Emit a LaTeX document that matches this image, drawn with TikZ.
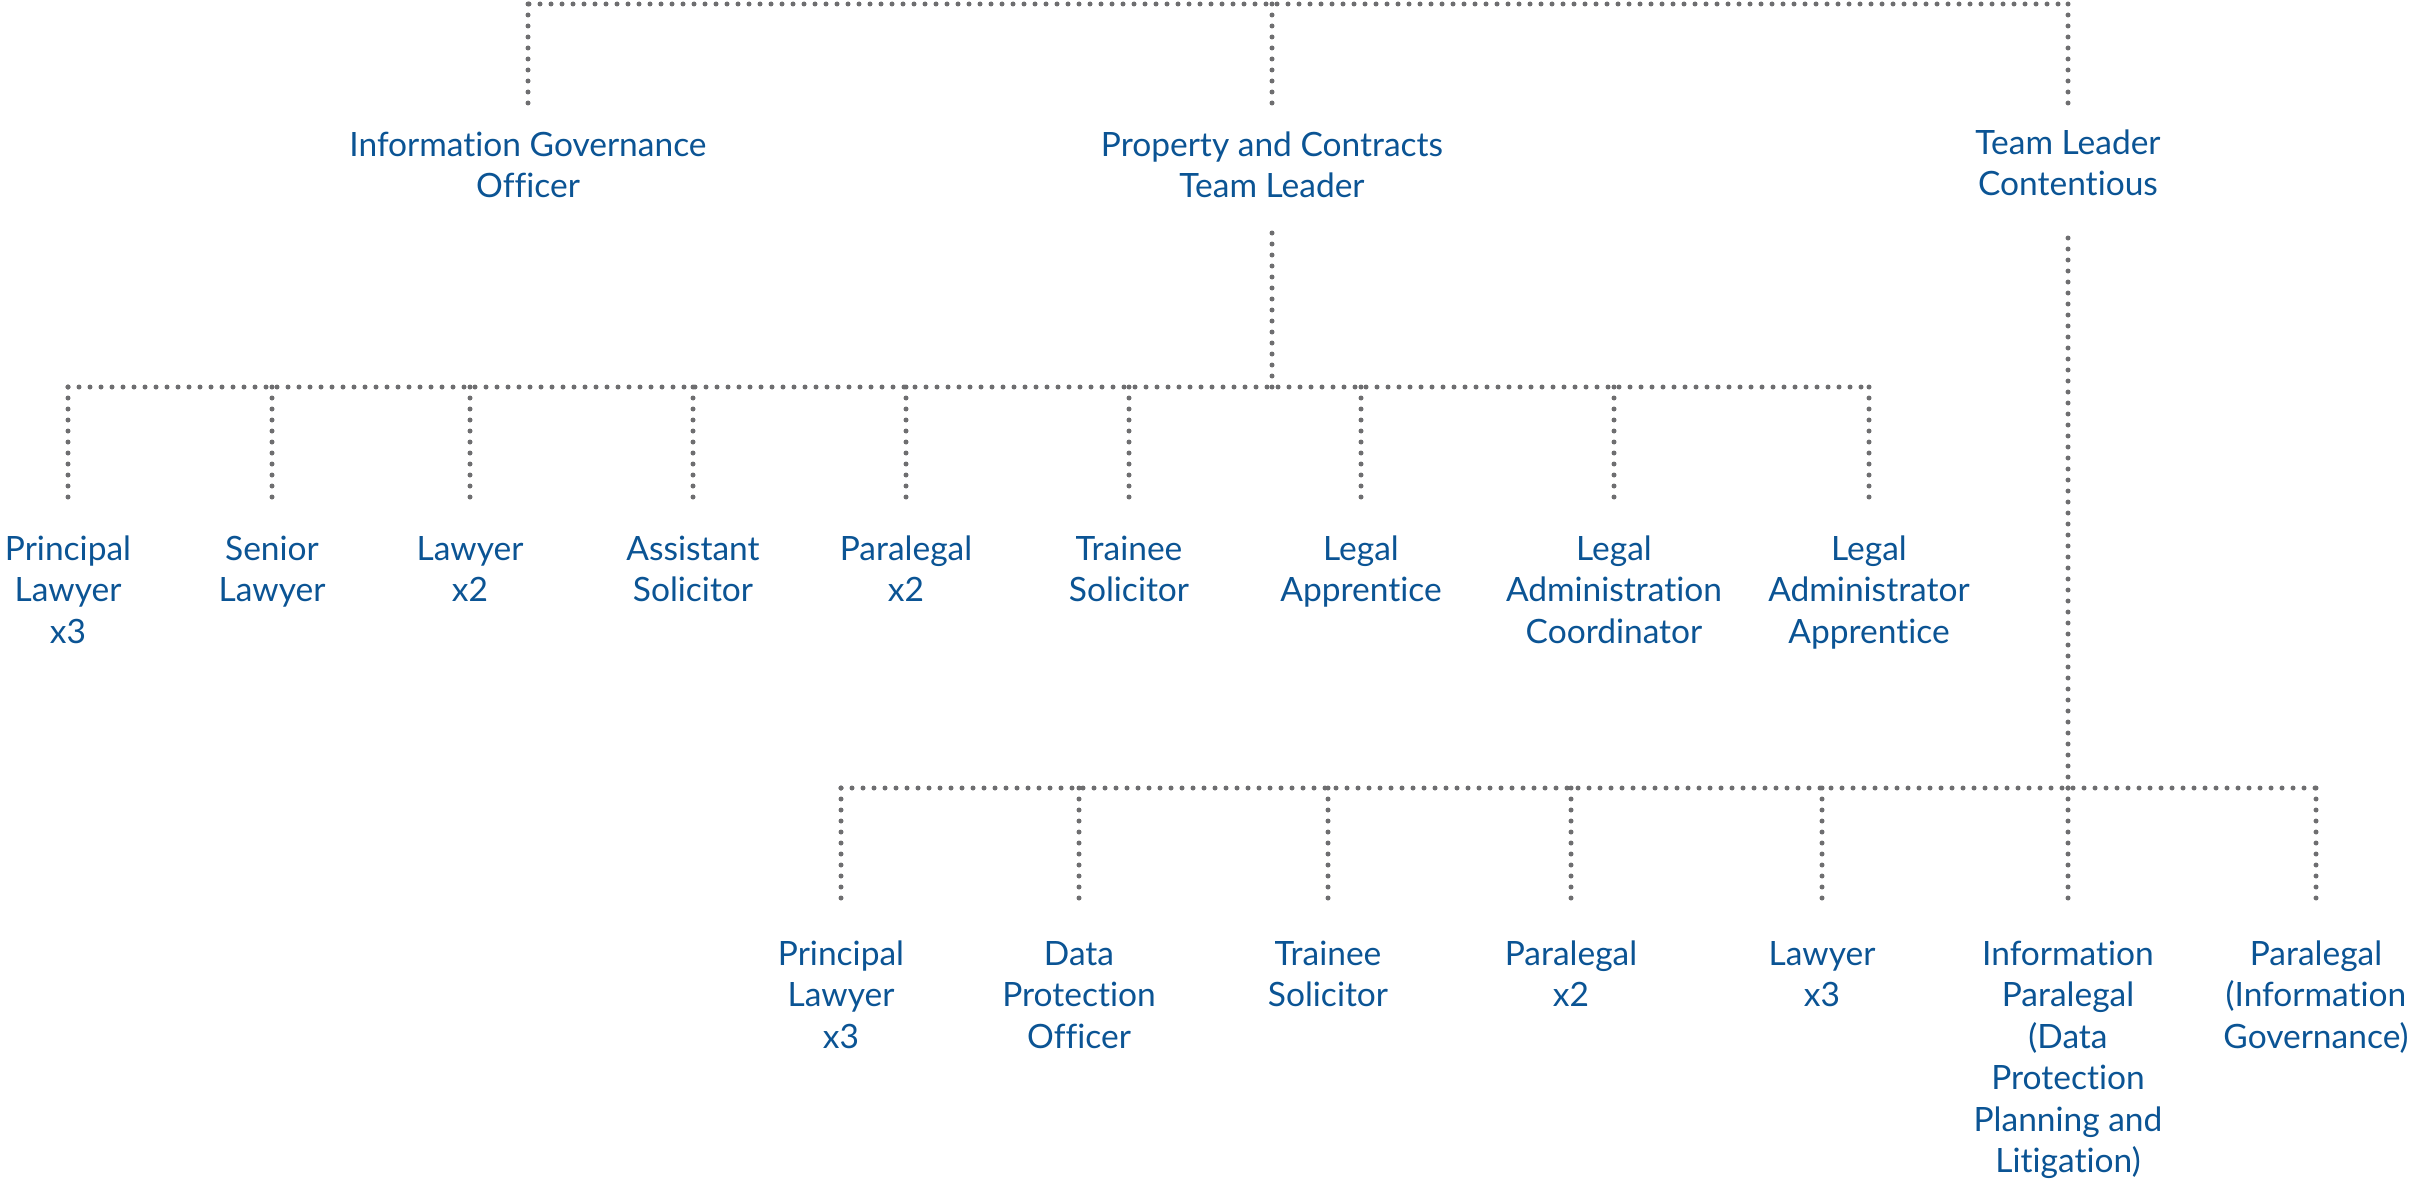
\documentclass[tikz,border=0pt]{standalone}
\usepackage{fontspec}
\setmainfont{Lato}[Ligatures=NoCommon]
\definecolor{txtblue}{RGB}{11,84,148}
\definecolor{dotgray}{RGB}{110,110,112}
\begin{document}
\begin{tikzpicture}[x=1pt,y=1pt,
  role/.style={align=center,anchor=base,inner sep=0pt,text=txtblue,
    font=\fontsize{33.5}{41.5}\selectfont},
  dl/.style={draw=dotgray,line width=5pt,line cap=round,dash pattern=on 0pt off 11pt}]
\useasboundingbox (0,0) rectangle (2411,-1180);
% junction coordinates
\coordinate (b0L) at (529,-4);   \coordinate (b0R) at (2068,-4);
\coordinate (b1L) at (68,-387);  \coordinate (b1R) at (1870,-387);
\coordinate (b2L) at (841,-788); \coordinate (b2R) at (2316,-788);
% top level (anchor = baseline of the last line)
\node[role] (igo) at (528,-197.5) {Information Governance\\Officer};
\node[role] (pc)  at (1272,-197.5) {Property and Contracts\\Team Leader};
\node[role] (tlc) at (2068,-195.5) {Team Leader\\Contentious};
% second level
\node[role] (pl1) at (68,-643)    {Principal\\Lawyer\\x3};
\node[role] (sl)  at (272,-601.5) {Senior\\Lawyer};
\node[role] (lw2) at (470,-601.5) {Lawyer\\x2};
\node[role] (as)  at (693,-601.5) {Assistant\\Solicitor};
\node[role] (pg2) at (906,-601.5) {Paralegal\\x2};
\node[role] (ts1) at (1129,-601.5) {Trainee\\Solicitor};
\node[role] (la)  at (1361,-601.5) {Legal\\Apprentice};
\node[role] (lac) at (1614,-643)  {Legal\\Administration\\Coordinator};
\node[role] (laa) at (1869,-643)  {Legal\\Administrator\\Apprentice};
% third level
\node[role] (pl3)  at (841,-1048)   {Principal\\Lawyer\\x3};
\node[role] (dpo)  at (1079,-1048)  {Data\\Protection\\Officer};
\node[role] (ts2)  at (1328,-1006.5) {Trainee\\Solicitor};
\node[role] (pg2b) at (1571,-1006.5) {Paralegal\\x2};
\node[role] (lw3)  at (1822,-1006.5) {Lawyer\\x3};
\node[role] (ipl)  at (2068,-1172.5) {Information\\Paralegal\\(Data\\Protection\\Planning and\\Litigation)};
\node[role] (pig)  at (2316,-1048)  {Paralegal\\(Information\\Governance)};
% bars
\draw[dl] (b0L) -- (b0R);
\draw[dl] (b1L) -- (b1R);
\draw[dl] (b2L) -- (b2R);
% top verticals
\foreach \n in {igo,pc,tlc}{\draw[dl] (\n.base |- b0L) -- ++(0,-104);}
% down from Property and Contracts and from Team Leader Contentious
\draw[dl] (pc.base |- b1L) -- ++(0,159);
\draw[dl] (tlc.base |- b2L) -- ++(0,560);
% second level verticals
\foreach \n in {pl1,sl,lw2,as,pg2,ts1,la,lac,laa}{\draw[dl] (\n.base |- b1L) -- ++(0,-111);}
% third level verticals
\foreach \n in {pl3,dpo,ts2,pg2b,lw3,ipl,pig}{\draw[dl] (\n.base |- b2L) -- ++(0,-111);}
\end{tikzpicture}
\end{document}
